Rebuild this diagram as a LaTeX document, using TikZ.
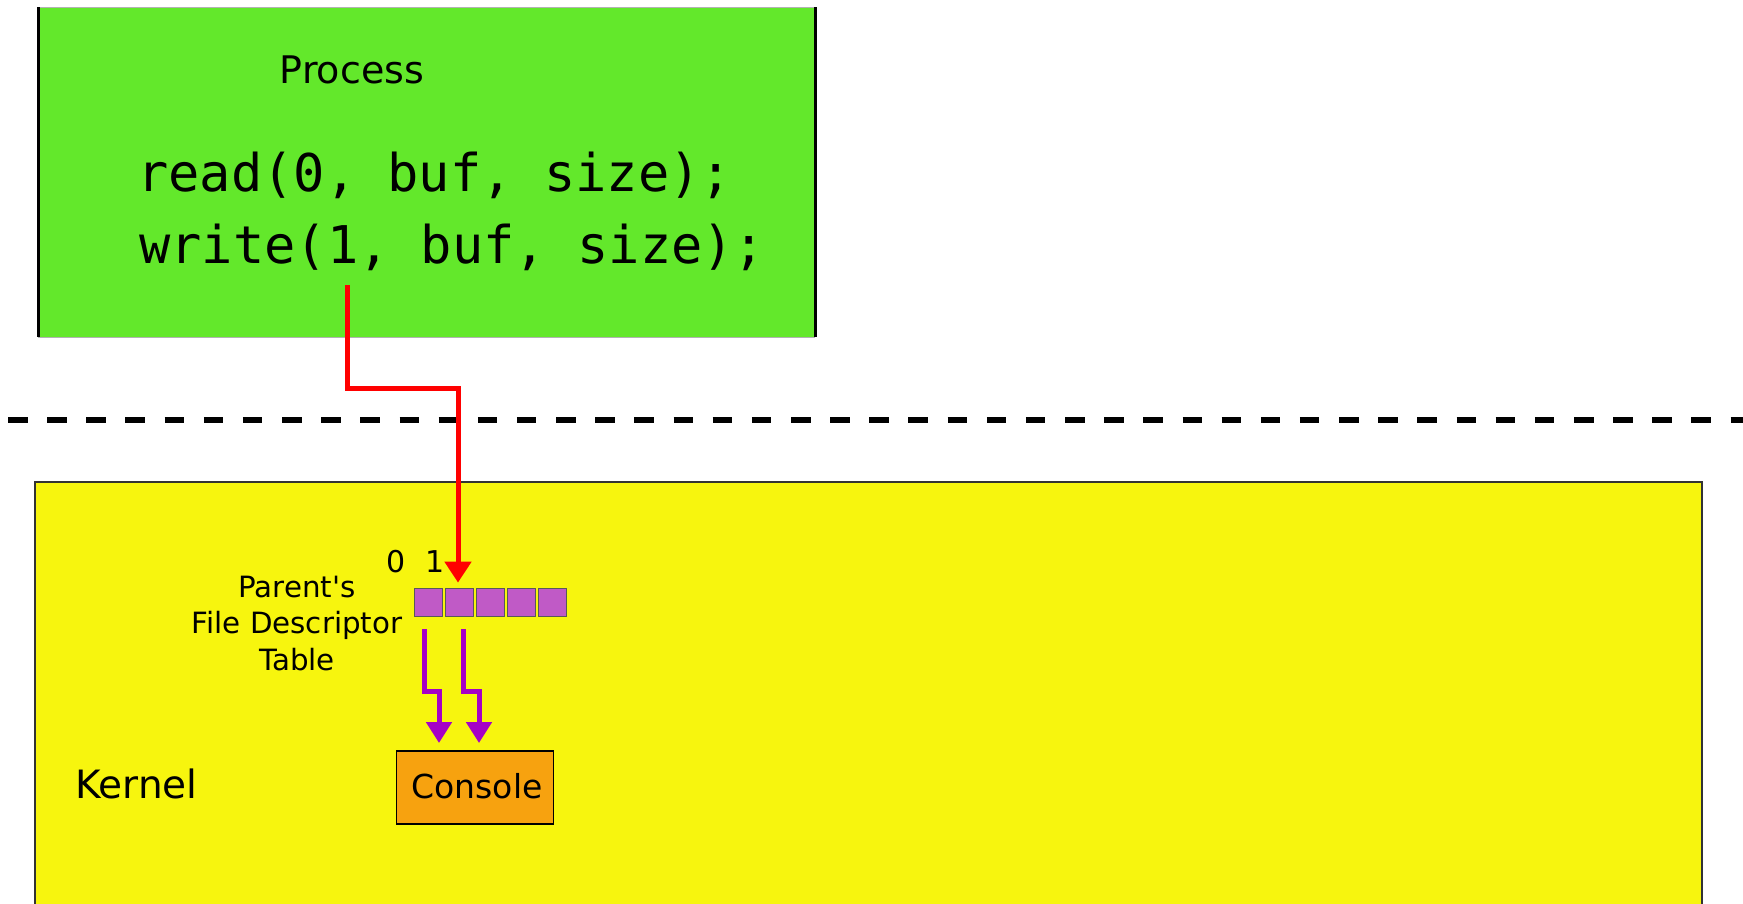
\documentclass[tikz,border=0pt]{standalone}
\usepackage{fontspec}
\setmainfont{DejaVu Sans}[Ligatures=TeXOff]
\newfontfamily\codefont{DejaVu Sans Mono}
\usetikzlibrary{arrows.meta}
\definecolor{procgreen}{HTML}{63E82B}
\definecolor{kernyellow}{HTML}{F7F50E}
\definecolor{fdpurple}{HTML}{C05AC6}
\definecolor{arrpurple}{HTML}{A600C6}
\definecolor{consorange}{HTML}{F7A20F}
\tikzset{
  lbl/.style={inner sep=0pt, anchor=base},
  code/.style={inner sep=0pt, anchor=base west, font=\codefont\fontsize{52}{62}\selectfont},
  fdcell/.style={draw=black!65, line width=0.8pt, fill=fdpurple, minimum width=28pt, minimum height=28pt, inner sep=0pt},
  redarrow/.style={draw=red, line width=5pt, -{Triangle[length=21pt,width=26pt]}},
  purparrow/.style={draw=arrpurple, line width=5pt, -{Triangle[length=21pt,width=25pt]}},
}
\begin{document}
\begin{tikzpicture}[x=1pt,y=-1pt]
\useasboundingbox (0,0) rectangle (1743,903);
% process box
\fill[procgreen] (38,7) rectangle (815,337);
\draw[black!30, line width=0.8pt] (38,7) -- (815,7) (38,337) -- (815,337);
\draw[black, line width=3pt] (38,7) -- (38,337) (815,7) -- (815,337);
\node[lbl, font=\fontsize{38}{46}\selectfont] (proc) at (352,83) {Process};
\node[code] (rd) at (137,191) {read(0, buf, size);};
\node[code] (wr) at (139,263) {write(1, buf, size);};
% separator
\draw[black, line width=5.5pt, dash pattern=on 19.5pt off 19.65pt] (8,420) -- (1743,420);
% kernel box
\draw[black!80, line width=1.5pt, fill=kernyellow] (35,482) rectangle (1702,915);
\node[lbl, font=\fontsize{39}{46}\selectfont, anchor=base west] (kern) at (75,798) {Kernel};
% fd table
\foreach \i in {0,...,4} {
  \node[fdcell] (c\i) at (428+31*\i,602) {};
}
\node[lbl, font=\fontsize{30}{36}\selectfont] (n0) at (396,572) {0};
\node[lbl, font=\fontsize{30}{36}\selectfont] (n1) at (435,572) {1};
\node[font=\fontsize{29.3}{36.5}\selectfont, align=center, inner sep=0pt, anchor=base] (fdl) at (297,670) {Parent's\\File Descriptor\\Table};
% console
\node[draw=black, line width=1.2pt, fill=consorange, minimum width=157pt, minimum height=73pt, inner sep=0pt] (cons) at (475,787.5) {};
\node[lbl, font=\fontsize{33}{38}\selectfont] (constext) at (477,798) {Console};
% arrows
\coordinate (rs) at (347,285);
\draw[redarrow, shorten >=5pt] (rs) |- (458,388) -- (c1.north -| 458,0);
\coordinate (p0) at (424,629);
\coordinate (p1) at (463,629);
\draw[purparrow] (p0) -- (424,691) -- (439,691) -- (439,743);
\draw[purparrow] (p1) -- (463,691) -- (479,691) -- (479,743);
\end{tikzpicture}
\end{document}
